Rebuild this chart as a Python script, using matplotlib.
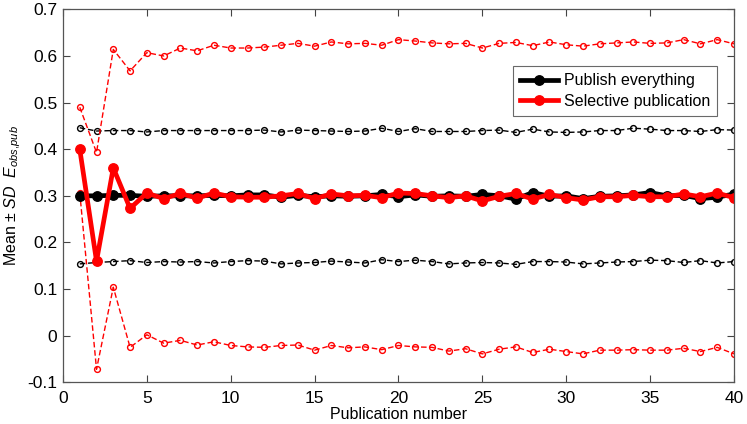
import matplotlib
matplotlib.use("Agg")
import matplotlib.pyplot as plt
import numpy as np

plt.rcParams['font.family'] = ['Liberation Sans', 'DejaVu Sans']
plt.rcParams['mathtext.fontset'] = 'custom'
plt.rcParams['mathtext.rm'] = 'Liberation Sans'
plt.rcParams['mathtext.it'] = 'Liberation Sans:italic'
plt.rcParams['mathtext.bf'] = 'Liberation Sans:bold'

pub_number = list(range(1, 41))

all_mean = [0.300, 0.300, 0.301, 0.301, 0.299, 0.300, 0.300, 0.300, 0.301, 0.300,
            0.302, 0.302, 0.297, 0.301, 0.298, 0.300, 0.299, 0.300, 0.303, 0.298,
            0.302, 0.299, 0.300, 0.299, 0.303, 0.300, 0.293, 0.307, 0.299, 0.300,
            0.294, 0.299, 0.300, 0.302, 0.307, 0.300, 0.301, 0.294, 0.297, 0.304]
all_upper = [0.446, 0.439, 0.440, 0.440, 0.437, 0.440, 0.440, 0.440, 0.440, 0.440,
             0.440, 0.441, 0.437, 0.441, 0.440, 0.439, 0.438, 0.439, 0.445, 0.438,
             0.444, 0.438, 0.438, 0.438, 0.440, 0.441, 0.436, 0.443, 0.437, 0.436,
             0.437, 0.440, 0.440, 0.445, 0.443, 0.440, 0.440, 0.438, 0.442, 0.441]
all_lower = [0.154, 0.157, 0.159, 0.161, 0.157, 0.159, 0.158, 0.159, 0.156, 0.159,
             0.161, 0.160, 0.154, 0.156, 0.157, 0.160, 0.158, 0.156, 0.163, 0.159,
             0.162, 0.159, 0.154, 0.156, 0.157, 0.156, 0.153, 0.159, 0.159, 0.158,
             0.154, 0.156, 0.158, 0.159, 0.162, 0.161, 0.157, 0.161, 0.156, 0.159]

sel_mean = [0.400, 0.160, 0.360, 0.273, 0.306, 0.294, 0.305, 0.295, 0.306, 0.298,
            0.297, 0.297, 0.300, 0.305, 0.294, 0.304, 0.300, 0.301, 0.296, 0.306,
            0.305, 0.300, 0.296, 0.300, 0.289, 0.299, 0.305, 0.293, 0.303, 0.296,
            0.291, 0.298, 0.298, 0.301, 0.298, 0.298, 0.304, 0.298, 0.306, 0.296]
sel_upper = [0.490, 0.393, 0.614, 0.568, 0.607, 0.600, 0.617, 0.611, 0.623, 0.617,
             0.617, 0.619, 0.623, 0.627, 0.621, 0.630, 0.626, 0.627, 0.623, 0.635,
             0.632, 0.628, 0.626, 0.627, 0.617, 0.627, 0.629, 0.622, 0.630, 0.624,
             0.621, 0.626, 0.628, 0.630, 0.627, 0.628, 0.635, 0.626, 0.635, 0.626]
sel_lower = [0.307, -0.072, 0.104, -0.025, 0.002, -0.016, -0.010, -0.020, -0.013, -0.021,
             -0.024, -0.025, -0.021, -0.020, -0.031, -0.021, -0.026, -0.024, -0.030, -0.021,
             -0.024, -0.025, -0.033, -0.028, -0.039, -0.029, -0.024, -0.036, -0.029, -0.034,
             -0.039, -0.031, -0.031, -0.030, -0.031, -0.031, -0.027, -0.034, -0.025, -0.039]

fig = plt.figure(figsize=(7.47, 4.24), dpi=100)
ax = fig.add_axes([0.0843, 0.0983, 0.8983, 0.8797])

dash_kw = dict(linestyle='--', dashes=(4, 2), linewidth=1.0, marker='o',
               markersize=4.2, markerfacecolor='none', markeredgewidth=1.0)

ax.plot(pub_number, all_upper, color='black', **dash_kw)
ax.plot(pub_number, all_lower, color='black', **dash_kw)
ax.plot(pub_number, sel_upper, color='red', **dash_kw)
ax.plot(pub_number, sel_lower, color='red', **dash_kw)

ax.plot(pub_number, all_mean, color='black', linewidth=3.4, marker='o',
        markersize=6.8, label='Publish everything')
ax.plot(pub_number, sel_mean, color='red', linewidth=3.4, marker='o',
        markersize=6.8, label='Selective publication')

ax.set_xlim(0, 40)
ax.set_ylim(-0.1, 0.7)
ax.set_xticks(range(0, 41, 5))
ax.set_yticks(np.round(np.arange(-0.1, 0.71, 0.1), 1))
ax.set_yticklabels(['-0.1', '0', '0.1', '0.2', '0.3', '0.4', '0.5', '0.6', '0.7'])
ax.tick_params(direction='in', top=True, right=True, length=5, width=0.8,
               labelsize=12.5, color='#444444')
ax.tick_params(axis='x', pad=6)
ax.tick_params(axis='y', pad=4)
for sp in ax.spines.values():
    sp.set_color('#555555')
    sp.set_linewidth(0.9)

ax.set_xlabel('Publication number', fontsize=11.5, labelpad=1)
ax.set_ylabel(r'Mean $\pm$ $\mathit{SD}$  $\mathit{E}_{\mathit{obs{,}pub}}$', fontsize=11.5, labelpad=3)

leg = ax.legend(loc='upper right', bbox_to_anchor=(0.975, 0.848), fontsize=11.5,
                frameon=True, fancybox=False, edgecolor='#444444',
                handlelength=2.4, handletextpad=0.35, borderpad=0.45,
                labelspacing=0.35, borderaxespad=0.0)
leg.get_frame().set_linewidth(0.8)

fig.savefig('out.png', dpi=100)
